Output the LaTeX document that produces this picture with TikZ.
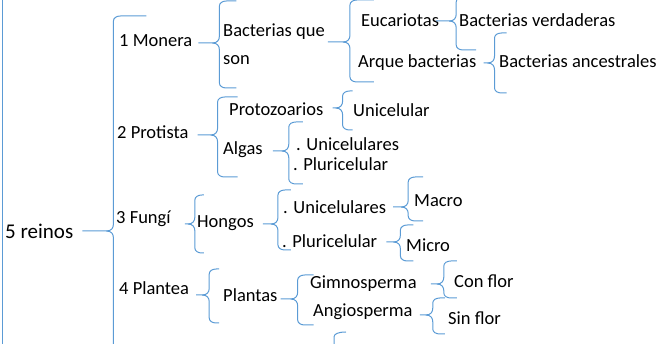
\documentclass[tikz,border=0pt]{standalone}
\usepackage{fontspec}
\setmainfont{Carlito}
\definecolor{azul}{HTML}{5B9BD5}
% llave: nodo, desplazamiento de la punta, ancho, arriba, abajo, remate
\newcommand{\llave}[6]{%
  \draw[llave] (#1.east) ++(#2) -- ++(#3-7,0) .. controls +(5,0) and +(0,4) .. ++(7,-7)
    -- ++(0,-#4+12) .. controls +(0,-3) and +(-4,0) .. ++(7,-5) -- ++(#6,0);
  \draw[llave] (#1.east) ++(#2) ++(#3-7,0) .. controls +(5,0) and +(0,-4) .. ++(7,7)
    -- ++(0,#5-12) .. controls +(0,3) and +(-4,0) .. ++(7,5) -- ++(#6,0);}

\begin{document}
\begin{tikzpicture}[x=1pt,y=-1pt,
    txt/.style={anchor=west,inner sep=0pt,text height=12pt,text depth=4pt,
      font=\fontsize{18.5}{20}\selectfont},
    llave/.style={azul,line width=1pt}]
  \useasboundingbox (0,0) rectangle (656,344);
  \clip (0,0) rectangle (656,344);
  \draw[llave] (2,0) -- (2,344);
  % textos
  \node[txt,text height=13.5pt,text depth=4.5pt,font=\fontsize{21}{24}\selectfont] (reinos) at (5,234) {5 reinos};
  \node[txt] (mon) at (119,43) {1 Monera};
  \node[txt] (bq) at (223,33) {Bacterias que};
  \node[txt] (son) at (223,61) {son};
  \node[txt] (euc) at (361,23) {Eucariotas};
  \node[txt] (bv) at (459,23) {Bacterias verdaderas};
  \node[txt] (arq) at (358,64) {Arque bacterias};
  \node[txt] (ba) at (499,64) {Bacterias ancestrales};
  \node[txt] (pro) at (117,135) {2 Protista};
  \node[txt] (prz) at (229,112) {Protozoarios};
  \node[txt] (unic) at (353,113) {Unicelular};
  \node[txt] (alg) at (223,151) {Algas};
  \node[txt] (uni1) at (296,147) {. Unicelulares};
  \node[txt] (plu1) at (293,167) {. Pluricelular};
  \node[txt] (fun) at (116,220) {3 Fungí};
  \node[txt] (hon) at (197,224) {Hongos};
  \node[txt] (uni2) at (283,210) {. Unicelulares};
  \node[txt] (plu2) at (282,244) {. Pluricelular};
  \node[txt] (mac) at (414,203) {Macro};
  \node[txt] (mic) at (406,248) {Micro};
  \node[txt] (pla) at (119,291) {4 Plantea};
  \node[txt] (plt) at (223,298) {Plantas};
  \node[txt] (gim) at (310,285) {Gimnosperma};
  \node[txt] (ang) at (313,313) {Angiosperma};
  \node[txt] (con) at (454,284) {Con flor};
  \node[txt] (sin) at (448,321) {Sin flor};
  % llaves
  \llave{reinos}{9,-3}{31}{215}{200}{26}
  \llave{mon}{6,0}{21}{42}{45}{10}
  \llave{bq}{3,9}{22}{42}{40}{17}
  \llave{euc}{-3,-2}{20}{24}{29}{13}
  \llave{arq}{7,-1}{11}{30}{30}{5}
  \llave{pro}{9,0}{20}{38}{42}{13}
  \llave{prz}{9,-4}{10}{17}{22}{3}
  \llave{alg}{10,0}{16}{29}{33}{7}
  \llave{fun}{14,4}{10}{29}{29}{2}
  \llave{hon}{9,0}{15}{34}{26}{6}
  \llave{uni2}{7,-3}{15}{30}{14}{8}
  \llave{plu2}{9,-2}{14}{17}{19}{6}
  \llave{pla}{7,4}{13}{26}{28}{3}
  \llave{plt}{3,1}{17}{24}{26}{9}
  \llave{gim}{14,-1}{13}{23}{14}{6}
  \llave{ang}{7,2}{13}{17}{19}{5}
  \draw[llave] (334,350) -- (334,337) .. controls (334,334) and (338,332) .. (346,332);
\end{tikzpicture}
\end{document}
